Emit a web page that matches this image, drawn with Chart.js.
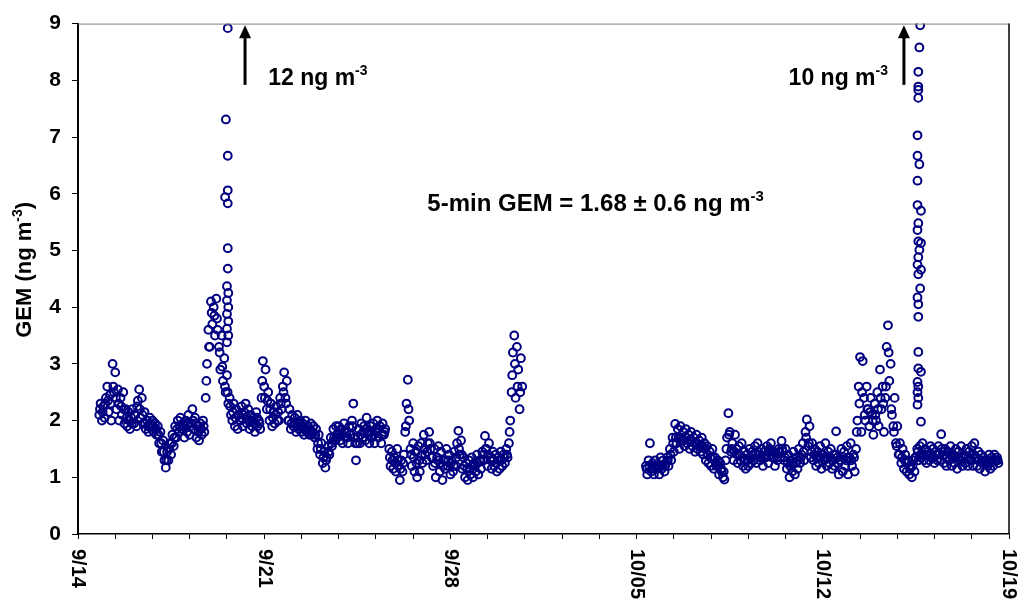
<!DOCTYPE html>
<html lang="en">
<head>
  <meta charset="UTF-8">
  <title>GEM 5-min</title>
  <script src="https://cdn.jsdelivr.net/npm/chart.js"></script>
  <style>
    body { margin: 0; background: #fff; }
  </style>
</head>
<body>
  <canvas id="chart" width="1021" height="604"></canvas>

  <script>
    // x = days since 9/14, y = GEM (ng m-3)
    const xTickDays = [0, 7, 14, 21, 28, 35];
    const xTickLabels = ["9/14", "9/21", "9/28", "10/05", "10/12", "10/19"];
    const minorStep = 1.4;
    const gemStep = 0.05;   // days between listed values
    const midStep = 0.1;

    // first block, starts 9/14 + 0.8 d
    const gemStart1 = 0.8;
    const gem1 = [
      2.1,2.3,2.0,2.25,2.05,2.4,2.6,2.15,2.45,2.0,3.0,2.5,2.85,2.2,2.55,2.0,2.4,2.1,2.5,1.95,
      2.2,1.9,2.15,1.85,2.05,2.2,1.95,2.1,1.9,2.35,2.55,2.05,2.4,1.95,2.15,1.85,2.0,1.8,2.05,1.9,
      2.0,1.8,1.95,1.75,1.9,1.6,1.8,1.45,1.65,1.3,1.17,1.45,1.3,1.6,1.4,1.75,1.55,1.9,1.7,2.0,
      1.8,2.05,1.85,1.95,1.7,2.0,1.8,2.1,1.75,1.95,2.2,1.85,2.05,1.7,1.9,1.65,1.95,1.75,2.0,1.8,
      2.4,3.0,3.6,3.3,4.1,3.7,4.0,3.5,4.15,3.6,3.3,2.9,3.5,2.7,3.1,2.5,2.8,2.3,2.4,2.1,
      2.0,2.3,1.9,2.2,1.85,2.1,2.0,2.25,1.9,2.15,2.3,1.95,2.2,1.85,2.1,1.9,2.05,1.8,2.15,1.9,
      2.0,1.85,2.4,3.05,2.6,2.9,2.2,2.5,2.0,2.3,1.9,2.15,1.95,2.25,2.0,2.0,2.4,2.2,2.6,2.85,
      2.4,2.7,2.0,2.2,1.85,2.1,1.9,2.05,1.8,2.1,1.85,2.0,1.8,1.95,1.75,2.0,1.8,1.9,1.75,1.95,
      1.75,1.9,1.7,1.85,1.5,1.75,1.4,1.6,1.25,1.45,1.17,1.35,1.55,1.4,1.7,1.55,1.85,1.65,1.9,1.7,
      1.9,1.65,1.85,1.6,1.95,1.7,1.8,1.6,1.9,1.75,2.0,2.3,1.7,1.3,1.6,1.85,1.6,1.95,1.7,1.9,
      1.65,2.05,1.8,1.6,1.9,1.7,1.95,1.6,1.85,2.0,1.7,1.9,1.6,1.95,1.75,1.85,null,null,1.5,1.2,
      1.45,1.15,1.35,1.1,1.5,1.2,0.95,1.3,1.1,1.4,1.8,2.3,2.72,2.0,1.5,1.2,1.6,1.1,1.45,1.0,
      1.55,1.1,1.6,1.25,1.75,1.4,1.3,1.6,1.8,1.5,1.35,1.2,1.5,1.0,1.35,1.55,1.1,1.45,0.95,1.3,
      1.15,1.5,1.2,1.4,1.05,1.3,1.1,1.45,1.2,1.6,1.82,1.4,1.65,1.15,1.35,1.0,1.25,0.95,1.3,1.05,
      1.35,1.0,1.25,1.1,1.4,1.05,1.3,1.15,1.45,1.3,1.73,1.5,1.2,1.6,1.3,1.15,1.45,1.2,1.4,1.1,
      1.35,1.15,1.45,1.2,1.4,1.25,1.5,1.35,1.6,2.0,2.5,3.2,3.5,2.4,3.3,2.9,2.2,3.1,2.6
    ];
    // mid-band readings of the same block, every 0.1 d from 0.825
    const midStart1 = 0.825;
    const mid1 = [
      2.2,2.15,2.3,2.35,2.3,2.6,2.4,2.3,2.25,2.2,
      2.05,2.0,1.95,2.1,2.25,2.2,2.1,1.95,1.9,1.95,
      1.9,1.85,1.75,1.6,1.45,1.3,1.5,1.6,1.7,1.85,
      1.9,1.85,1.9,1.95,1.9,2.0,1.95,1.8,1.85,1.9,
      2.7,3.3,3.9,3.85,3.8,3.2,2.95,2.6,2.5,2.25,
      2.15,2.05,2.1,2.05,2.1,2.05,2.0,2.0,1.95,2.05,
      1.95,2.7,2.4,2.35,2.2,2.05,2.1,2.15,2.3,2.5,
      2.3,2.0,1.95,1.95,1.9,1.95,1.9,1.85,1.85,1.8,
      1.8,1.75,1.6,1.5,1.35,1.3,1.45,1.6,1.7,1.75,
      1.75,1.75,1.8,1.7,1.75,1.9,1.6,1.7,1.75,1.8,
      1.85,1.75,1.8,1.75,1.8,1.85,1.75,1.8,null,1.35,
      1.3,1.25,1.3,1.15,1.25,1.9,2.2,1.4,1.35,1.25,
      1.3,1.4,1.5,1.45,1.6,1.35,1.25,1.3,1.25,1.2,
      1.3,1.3,1.25,1.2,1.35,1.5,1.4,1.2,1.15,1.15,
      1.2,1.2,1.25,1.3,1.4,1.5,1.4,1.35,1.3,1.25,
      1.3,1.3,1.35,1.4,1.8,2.8,3.0,2.6,2.5
    ];

    // second block, starts 9/14 + 21.35 d
    const gemStart2 = 21.35;
    const gem2 = [
      1.2,1.05,1.3,1.6,1.1,1.25,1.05,1.3,1.15,1.2,1.05,1.35,1.15,1.3,1.1,1.25,1.35,1.2,1.5,1.3,
      1.7,1.45,1.94,1.6,1.85,1.5,1.9,1.65,1.8,1.55,1.85,1.6,1.75,1.5,1.8,1.55,1.7,1.45,1.75,1.5,
      1.65,1.45,1.7,1.4,1.6,1.3,1.55,1.25,1.45,1.2,1.5,1.15,1.35,1.2,1.3,1.05,1.25,1.1,1.0,0.96,
      1.3,1.7,2.13,1.8,1.45,1.6,1.3,1.75,1.5,1.25,1.55,1.3,1.6,1.2,1.45,1.15,1.4,1.2,1.5,1.25,
      1.45,1.3,1.55,1.25,1.6,1.4,1.3,1.5,1.2,1.45,1.35,1.55,1.25,1.5,1.6,1.35,1.45,1.2,1.4,1.3,
      1.5,1.35,1.64,1.45,1.3,1.5,1.15,1.4,1.0,1.3,1.1,1.45,1.05,1.35,1.15,1.5,1.25,1.4,1.6,1.3,
      1.8,2.02,1.55,1.9,1.35,1.6,1.3,1.5,1.2,1.45,1.25,1.55,1.15,1.4,1.3,1.6,1.2,1.45,1.25,1.5,
      1.15,1.4,1.2,1.81,1.35,1.05,1.3,1.5,1.1,1.45,1.2,1.55,1.05,1.35,1.6,1.2,1.4,1.1,1.5,2.0,
      2.6,3.12,1.8,3.05,2.4,2.0,2.6,2.2,1.9,2.4,2.1,1.75,2.3,2.0,2.5,1.9,2.9,2.2,2.6,1.8,
      2.4,3.3,3.68,2.7,3.0,2.1,1.9,2.4,1.6,1.9,1.4,1.6,1.25,1.5,1.15,1.4,1.1,1.3,1.05,1.2,
      1.0,1.3,1.1,1.35,1.5,1.3,1.55,1.35,1.6,1.3,1.5,1.25,1.45,1.3,1.55,1.35,1.5,1.25,1.45,1.3,
      1.55,1.3,1.76,1.45,1.25,1.5,1.2,1.45,1.3,1.55,1.2,1.4,1.25,1.5,1.15,1.45,1.3,1.55,1.2,1.4,
      1.25,1.5,1.2,1.45,1.3,1.55,1.2,1.6,1.35,1.2,1.45,1.15,1.4,1.25,1.35,1.1,1.3,1.2,1.4,1.15,
      1.35,1.2,1.4,1.3,1.35,1.25
    ];
    const midStart2 = 21.375;
    const mid2 = [
      1.15,1.2,1.15,1.2,1.15,1.2,1.2,1.2,1.3,1.4,
      1.6,1.7,1.7,1.7,1.65,1.7,1.65,1.65,1.6,1.6,
      1.55,1.55,1.5,1.4,1.35,1.35,1.25,1.2,1.15,1.1,
      1.5,1.75,1.5,1.45,1.4,1.4,1.35,1.3,1.3,1.35,
      1.4,1.4,1.45,1.35,1.35,1.4,1.45,1.4,1.35,1.35,
      1.45,1.5,1.35,1.25,1.2,1.25,1.25,1.3,1.35,1.45,
      1.7,1.6,1.45,1.4,1.35,1.35,1.4,1.35,1.35,1.35,
      1.3,1.4,1.25,1.3,1.35,1.3,1.35,1.3,1.35,1.8,
      2.3,2.5,2.1,2.2,2.15,2.0,2.1,2.2,2.4,2.3,
      2.6,3.2,2.2,1.8,1.55,1.4,1.35,1.3,1.25,1.15,
      1.2,1.35,1.45,1.4,1.4,1.4,1.4,1.4,1.35,1.4,
      1.4,1.5,1.4,1.35,1.4,1.35,1.35,1.35,1.3,1.35,
      1.35,1.35,1.4,1.4,1.35,1.3,1.3,1.3,1.25,1.25,
      1.3,1.3,1.3
    ];

    // the two plume spikes (9/20 and 10/15)
    const spikeDays = [
      5.63,5.56,5.63,5.63,5.53,5.63,5.63,5.63,5.6,5.65,5.6,5.65,5.6,5.65,5.6,5.65,5.6,
      31.66,31.63,31.59,31.59,31.59,31.59,31.56,31.56,31.63,31.56,31.56,31.69,31.59,31.56,31.59,31.69,
      31.63,31.59,31.56,31.69,31.59,31.66,31.56,31.59,31.59,31.59,31.59,31.69,31.56,31.59,31.56,31.59,31.56,31.69
    ];
    const spikeVals = [
      8.92,7.31,6.67,6.06,5.94,5.83,5.04,4.68,4.37,4.25,4.12,4.0,3.88,3.75,3.62,3.5,3.38,
      8.97,8.58,8.15,7.89,7.83,7.69,7.03,6.67,6.52,6.23,5.8,5.7,5.48,5.36,5.16,5.13,
      5.01,4.88,4.75,4.66,4.58,4.33,4.17,4.05,3.83,3.21,2.92,2.86,2.68,2.6,2.5,2.4,2.28,1.98
    ];

    function toPoints(start, step, vals) {
      const pts = [];
      vals.forEach((v, i) => {
        if (v !== null) pts.push({ x: start + i * step, y: v });
      });
      return pts;
    }

    const points = toPoints(midStart1, midStep, mid1)
      .concat(toPoints(midStart2, midStep, mid2))
      .concat(toPoints(gemStart1, gemStep, gem1))
      .concat(toPoints(gemStart2, gemStep, gem2))
      .concat(spikeDays.map((d, i) => ({ x: d, y: spikeVals[i] })));

    const FONT = 'Arial, "Liberation Sans", sans-serif';

    // draws a text made of normal and superscript parts
    function richText(ctx, parts, x, y, size, align) {
      const supSize = Math.round(size * 0.62);
      let total = 0;
      const widths = parts.map(p => {
        ctx.font = "bold " + (p[1] ? supSize : size) + "px " + FONT;
        const w = ctx.measureText(p[0]).width;
        total += w;
        return w;
      });
      let cx = x;
      if (align === "right") cx = x - total;
      if (align === "center") cx = x - total / 2;
      ctx.textAlign = "left";
      ctx.textBaseline = "alphabetic";
      parts.forEach((p, i) => {
        ctx.font = "bold " + (p[1] ? supSize : size) + "px " + FONT;
        ctx.fillText(p[0], cx, p[1] ? y - size * 0.42 : y);
        cx += widths[i];
      });
    }

    function arrow(ctx, px, yFrom, yTo) {
      ctx.strokeStyle = "#000";
      ctx.fillStyle = "#000";
      ctx.lineWidth = 3;
      ctx.beginPath();
      ctx.moveTo(px, yFrom);
      ctx.lineTo(px, yTo + 10);
      ctx.stroke();
      ctx.beginPath();
      ctx.moveTo(px, yTo);
      ctx.lineTo(px - 6, yTo + 13);
      ctx.lineTo(px + 6, yTo + 13);
      ctx.closePath();
      ctx.fill();
    }

    const decor = {
      id: "decor",
      afterDraw(chart) {
        const { ctx, chartArea: a, scales: { x, y } } = chart;
        ctx.save();

        // top and right frame
        ctx.lineWidth = 1;
        ctx.strokeStyle = "#808080";
        ctx.beginPath();
        ctx.moveTo(a.left, a.top + 0.5);
        ctx.lineTo(a.right, a.top + 0.5);
        ctx.stroke();
        ctx.strokeStyle = "#000";
        ctx.lineWidth = 1.5;
        ctx.beginPath();
        ctx.moveTo(a.right, a.top);
        ctx.lineTo(a.right, a.bottom);
        ctx.stroke();

        // x labels, turned clockwise
        ctx.fillStyle = "#000";
        ctx.font = "bold 20px " + FONT;
        xTickDays.forEach((d, i) => {
          ctx.save();
          ctx.translate(x.getPixelForValue(d), a.bottom + 15);
          ctx.rotate(Math.PI / 2);
          ctx.textAlign = "left";
          ctx.textBaseline = "middle";
          ctx.fillText(xTickLabels[i], 0, 0);
          ctx.restore();
        });

        // y title
        ctx.save();
        ctx.translate(31, (a.top + a.bottom) / 2 - 9);
        ctx.rotate(-Math.PI / 2);
        richText(ctx, [["GEM (ng m", false], ["-3", true], [")", false]], 0, 0, 22, "center");
        ctx.restore();

        // arrows and notes
        arrow(ctx, x.getPixelForValue(6.28), y.getPixelForValue(7.92), y.getPixelForValue(8.97));
        arrow(ctx, x.getPixelForValue(31.05), y.getPixelForValue(7.92), y.getPixelForValue(8.97));
        richText(ctx, [["12 ng m", false], ["-3", true]],
          x.getPixelForValue(7.15), y.getPixelForValue(7.92), 23, "left");
        richText(ctx, [["10 ng m", false], ["-3", true]],
          x.getPixelForValue(30.45), y.getPixelForValue(7.92), 23, "right");
        richText(ctx, [["5-min GEM = 1.68 \u00b1 0.6 ng m", false], ["-3", true]],
          x.getPixelForValue(19.46), y.getPixelForValue(5.70), 24, "center");

        ctx.restore();
      }
    };

    new Chart(document.getElementById("chart"), {
      type: "scatter",
      data: {
        datasets: [{
          label: "GEM",
          data: points,
          pointRadius: 3.9,
          pointBorderWidth: 2,
          borderColor: "#000080",
          backgroundColor: "rgba(255,255,255,0)",
          pointHoverRadius: 3.9
        }]
      },
      options: {
        responsive: false,
        animation: false,
        layout: { padding: { top: 18, right: 12, left: 0, bottom: 0 } },
        plugins: { legend: { display: false }, tooltip: { enabled: false } },
        scales: {
          x: {
            type: "linear",
            min: 0,
            max: 35,
            afterBuildTicks: (scale) => {
              const t = [];
              for (let i = 0; i * minorStep <= 35 + 1e-6; i++) t.push({ value: +(i * minorStep).toFixed(2) });
              scale.ticks = t;
            },
            afterFit: (scale) => { scale.height = 70; },
            ticks: { display: false },
            grid: { drawOnChartArea: false, drawTicks: true, tickLength: 5, color: "#000", lineWidth: 1 },
            border: { display: true, color: "#000", width: 1.5 }
          },
          y: {
            min: 0,
            max: 9,
            afterFit: (scale) => { scale.width = 78; },
            ticks: {
              stepSize: 1,
              color: "#000",
              padding: 11,
              font: { family: FONT, size: 21, weight: "bold" }
            },
            grid: { drawOnChartArea: false, drawTicks: true, tickLength: 6, color: "#000", lineWidth: 1 },
            border: { display: true, color: "#000", width: 2 }
          }
        }
      },
      plugins: [decor]
    });
  </script>
</body>
</html>
